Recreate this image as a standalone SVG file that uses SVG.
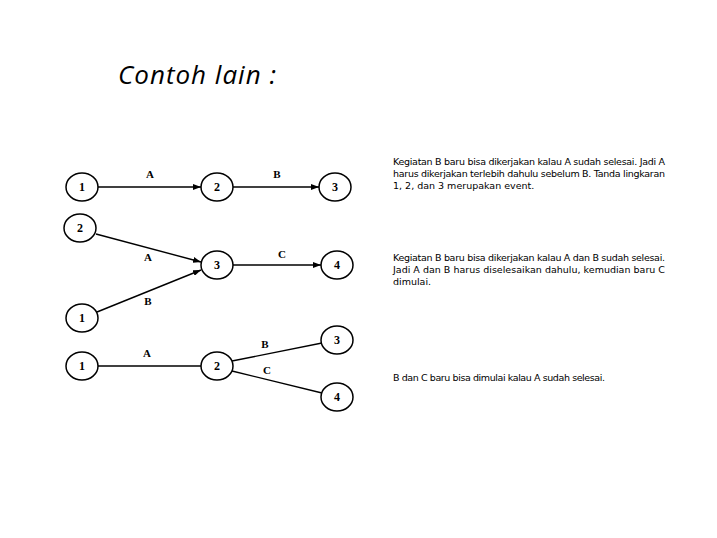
<svg xmlns="http://www.w3.org/2000/svg" width="717" height="538" viewBox="0 0 717 538">
<style>
.n{fill:#fff;stroke:#000;stroke-width:1.5}
.nt{font-family:"Liberation Serif",serif;font-weight:bold;font-size:12px;text-anchor:middle}
.l{font-family:"Liberation Serif",serif;font-weight:bold;font-size:11px;text-anchor:middle}
.e{stroke:#000;stroke-width:1.4;fill:none}
.p{font-family:"DejaVu Sans",sans-serif;font-size:9.5px}
</style>
<defs><marker id="a" markerWidth="8" markerHeight="6" refX="8" refY="3" orient="auto" markerUnits="userSpaceOnUse"><path d="M0,0L8,3L0,6z"/></marker></defs>
<rect width="717" height="538" fill="#fff"/>
<text x="118" y="84" font-family="Open Sans,sans-serif" font-style="italic" font-size="26" letter-spacing="1">Contoh lain :</text>
<g id="edges">
<line class="e" x1="98" y1="187" x2="201" y2="187" marker-end="url(#a)"/>
<line class="e" x1="233" y1="187" x2="319" y2="187" marker-end="url(#a)"/>
<line class="e" x1="96" y1="234" x2="201" y2="262" marker-end="url(#a)"/>
<line class="e" x1="97" y1="312" x2="201" y2="270" marker-end="url(#a)"/>
<line class="e" x1="233" y1="265" x2="321" y2="265" marker-end="url(#a)"/>
<line class="e" x1="98" y1="366" x2="201" y2="366"/>
<line class="e" x1="232" y1="361" x2="322" y2="343"/>
<line class="e" x1="232" y1="371" x2="322" y2="393"/>
<text class="l" x="150" y="178">A</text><text class="l" x="277" y="178">B</text>
<text class="l" x="148" y="261">A</text><text class="l" x="282" y="258">C</text><text class="l" x="148" y="305">B</text>
<text class="l" x="147" y="357">A</text><text class="l" x="265" y="348">B</text><text class="l" x="267" y="374">C</text>
</g>
<g id="r1n1"><ellipse class="n" cx="82" cy="187" rx="16" ry="14"/><text class="nt" x="82" y="191">1</text></g>
<g id="r1n2"><ellipse class="n" cx="217" cy="187" rx="16" ry="14"/><text class="nt" x="217" y="191">2</text></g>
<g id="r1n3"><ellipse class="n" cx="335" cy="187" rx="16" ry="14"/><text class="nt" x="335" y="191">3</text></g>
<g id="r2n2"><ellipse class="n" cx="80" cy="228" rx="16" ry="14"/><text class="nt" x="80" y="232">2</text></g>
<g id="r2n3"><ellipse class="n" cx="217" cy="265" rx="16" ry="14"/><text class="nt" x="217" y="269">3</text></g>
<g id="r2n4"><ellipse class="n" cx="337" cy="265" rx="16" ry="14"/><text class="nt" x="337" y="269">4</text></g>
<g id="r2n1"><ellipse class="n" cx="82" cy="318" rx="16" ry="14"/><text class="nt" x="82" y="322">1</text></g>
<g id="r3n1"><ellipse class="n" cx="82" cy="366" rx="16" ry="14"/><text class="nt" x="82" y="370">1</text></g>
<g id="r3n2"><ellipse class="n" cx="217" cy="366" rx="16" ry="14"/><text class="nt" x="217" y="370">2</text></g>
<g id="r3n3"><ellipse class="n" cx="337" cy="340" rx="16" ry="14"/><text class="nt" x="337" y="344">3</text></g>
<g id="r3n4"><ellipse class="n" cx="337" cy="397" rx="16" ry="14"/><text class="nt" x="337" y="401">4</text></g>
<g id="texts">
<text class="p" x="393" y="165" textLength="272">Kegiatan B baru bisa dikerjakan kalau A sudah selesai. Jadi A</text>
<text class="p" x="393" y="177" textLength="272">harus dikerjakan terlebih dahulu sebelum B. Tanda lingkaran</text>
<text class="p" x="393" y="189">1, 2, dan 3 merupakan event.</text>
<text class="p" x="393" y="261" textLength="272">Kegiatan B baru bisa dikerjakan kalau A dan B sudah selesai.</text>
<text class="p" x="393" y="273" textLength="272">Jadi A dan B harus diselesaikan dahulu, kemudian baru C</text>
<text class="p" x="393" y="285">dimulai.</text>
<text class="p" x="393" y="381" textLength="212">B dan C baru bisa dimulai kalau A sudah selesai.</text>
</g>
</svg>
